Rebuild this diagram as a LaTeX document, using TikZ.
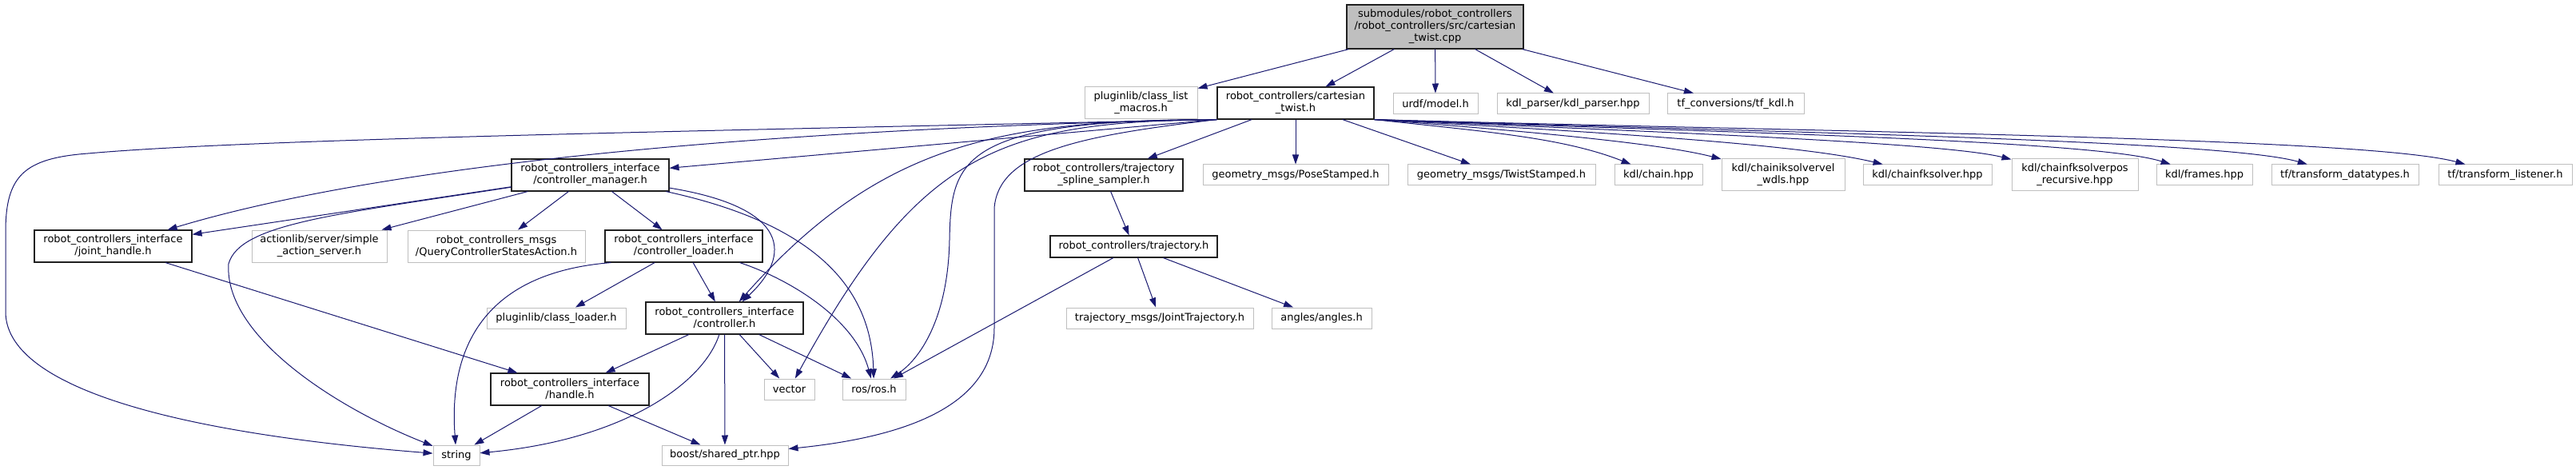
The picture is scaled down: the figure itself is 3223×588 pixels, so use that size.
\documentclass[tikz,border=0pt]{standalone}
\usepackage{fontspec}
\setmainfont{DejaVu Sans}
\usepackage{tikz}
\usetikzlibrary{arrows.meta,calc}
\definecolor{depblue}{HTML}{191970}
\definecolor{extgray}{HTML}{BFBFBF}
\definecolor{rootgray}{HTML}{BFBFBF}
\definecolor{docborder}{HTML}{202020}
\newcommand{\graphfont}{\fontsize{13}{15}\selectfont}

\begin{document}
\begin{tikzpicture}[x=1pt,y=-1pt,
  docfile/.style={draw=docborder,line width=1.1pt,fill=white,inner sep=0pt,
                  align=center,font=\graphfont},
  extfile/.style={draw=extgray,line width=1pt,fill=white,inner sep=0pt,
                  align=center,font=\graphfont},
  rootfile/.style={docfile,fill=rootgray},
  dep/.style={depblue,line width=1pt,-{Triangle[length=12pt,width=8pt]}}]

\fill[white] (0,0) rectangle (3223,588);
\useasboundingbox (0,0) rectangle (3223,588);

% source file
\node[rootfile,minimum width=221,minimum height=55] (root) at (1795.5,33.5)
  {submodules/robot\_controllers\\/robot\_controllers/src/cartesian\\\_twist.cpp};

% first level
\node[extfile,minimum width=141,minimum height=40] (plmacros) at (1427.5,129) {pluginlib/class\_list\\\_macros.h};
\node[docfile,minimum width=196,minimum height=40] (carth) at (1621,129) {robot\_controllers/cartesian\\\_twist.h};
\node[extfile,minimum width=106,minimum height=26] (urdf) at (1796,130) {urdf/model.h};
\node[extfile,minimum width=190,minimum height=26] (kdlparser) at (1968,130) {kdl\_parser/kdl\_parser.hpp};
\node[extfile,minimum width=171,minimum height=26] (tfconv) at (2171.5,130) {tf\_conversions/tf\_kdl.h};

% second level
\node[docfile,minimum width=197,minimum height=40] (cmgr) at (738.5,219) {robot\_controllers\_interface\\/controller\_manager.h};
\node[docfile,minimum width=198,minimum height=40] (spline) at (1381,219) {robot\_controllers/trajectory\\\_spline\_sampler.h};
\node[extfile,minimum width=232,minimum height=26] (pose) at (1621,219) {geometry\_msgs/PoseStamped.h};
\node[extfile,minimum width=235,minimum height=26] (twist) at (1878.5,219) {geometry\_msgs/TwistStamped.h};
\node[extfile,minimum width=110,minimum height=26] (chain) at (2075,219) {kdl/chain.hpp};
\node[extfile,minimum width=154,minimum height=40] (wdls) at (2231,219) {kdl/chainiksolvervel\\\_wdls.hpp};
\node[extfile,minimum width=161,minimum height=26] (fksolver) at (2411.5,219) {kdl/chainfksolver.hpp};
\node[extfile,minimum width=158,minimum height=40] (fkpos) at (2596,219) {kdl/chainfksolverpos\\\_recursive.hpp};
\node[extfile,minimum width=120,minimum height=26] (frames) at (2758,219) {kdl/frames.hpp};
\node[extfile,minimum width=184,minimum height=26] (tfdata) at (2934,219) {tf/transform\_datatypes.h};
\node[extfile,minimum width=167,minimum height=26] (tflist) at (3134.5,219) {tf/transform\_listener.h};

% third level
\node[docfile,minimum width=197,minimum height=40] (jhandle) at (141.5,308) {robot\_controllers\_interface\\/joint\_handle.h};
\node[extfile,minimum width=169,minimum height=40] (actsrv) at (399.5,308) {actionlib/server/simple\\\_action\_server.h};
\node[extfile,minimum width=222,minimum height=40] (query) at (621,308) {robot\_controllers\_msgs\\/QueryControllerStatesAction.h};
\node[docfile,minimum width=197,minimum height=40] (cloader) at (855.5,308) {robot\_controllers\_interface\\/controller\_loader.h};
\node[docfile,minimum width=209,minimum height=27] (traj) at (1418.5,308.5) {robot\_controllers/trajectory.h};

% fourth level
\node[extfile,minimum width=174,minimum height=26] (classloader) at (696,398) {pluginlib/class\_loader.h};
\node[docfile,minimum width=197,minimum height=40] (ctrl) at (906.5,398) {robot\_controllers\_interface\\/controller.h};
\node[extfile,minimum width=234,minimum height=26] (jtraj) at (1451,398) {trajectory\_msgs/JointTrajectory.h};
\node[extfile,minimum width=125,minimum height=26] (angles) at (1653.5,398) {angles/angles.h};

% fifth level
\node[docfile,minimum width=198,minimum height=40] (handle) at (713,487) {robot\_controllers\_interface\\/handle.h};
\node[extfile,minimum width=63,minimum height=26] (vector) at (987.5,487) {vector};
\node[extfile,minimum width=79,minimum height=26] (ros) at (1093.5,487) {ros/ros.h};

% bottom
\node[extfile,minimum width=58,minimum height=25] (string) at (571,569.5) {string};
\node[extfile,minimum width=158,minimum height=25] (boost) at (907,569.5) {boost/shared\_ptr.hpp};

% straight includes
\foreach \t in {plmacros,carth,urdf,kdlparser,tfconv}
  \draw[dep] (root) -- (\t);
\foreach \a/\b in {carth/spline,carth/pose,carth/twist,cmgr/jhandle,cmgr/actsrv,
                   cmgr/query,cmgr/cloader,cloader/classloader,cloader/ctrl,
                   ctrl/handle,ctrl/boost,ctrl/vector,ctrl/ros,jhandle/handle,
                   handle/string,handle/boost,spline/traj,traj/ros,traj/jtraj,traj/angles}
  \draw[dep] (\a) -- (\b);
\draw[dep] (carth.south west) -- (cmgr);

% cartesian_twist.h to the kdl and tf headers
\foreach \t/\px/\cx/\cy in {chain/1861/1955/172,wdls/1924/2080/180,fksolver/1996/2250/180,
                            fkpos/2070/2430/178,frames/2135/2620/175,tfdata/2205/2780/175,
                            tflist/2285/2960/172}
  \draw[dep] (carth.south east) .. controls (\px,165) and (\cx,\cy) .. (\t);

% cartesian_twist.h to the left part
\draw[dep] (carth.south west) .. controls (800,165) and (300,175) .. (110,192)
  .. controls (30,198) and (7,220) .. (7,290) -- (7,390)
  .. controls (7,480) and (200,540) .. (string);
\draw[dep] (carth.south west) .. controls (1000,160) and (500,200) .. (jhandle);
\draw[dep] (carth.south west) .. controls (1250,150) and (1100,180) .. (ctrl);
\draw[dep] (carth.south west) .. controls (1250,152) and (1150,190) .. (vector);
\draw[dep] (carth.south west) .. controls (1200,150) and (1190,200) .. (1188,300)
  .. controls (1186,400) and (1150,450) .. (ros);
\draw[dep] (carth.south west) .. controls (1350,170) and (1250,190) .. (1244,260)
  -- (1244,410) .. controls (1244,500) and (1150,545) .. (boost);

% controller_manager.h
\draw[dep] (cmgr) .. controls (420,268) and (300,280) .. (286,330)
  .. controls (280,420) and (420,510) .. (string);
\draw[dep] (cmgr) .. controls (990,260) and (990,320) .. (ctrl);
\draw[dep] (cmgr) .. controls (1020,280) and (1090,360) .. (ros);

% controller_loader.h
\draw[dep] ($(cloader.south)+(70,0)$) .. controls (990,350) and (1070,400) .. (ros);
\draw[dep] ($(cloader.south west)+(8,0)$) .. controls (620,340) and (560,420) .. (string);

% controller.h
\draw[dep] (ctrl) .. controls (880,480) and (780,550) .. (string);

\end{tikzpicture}
\end{document}
